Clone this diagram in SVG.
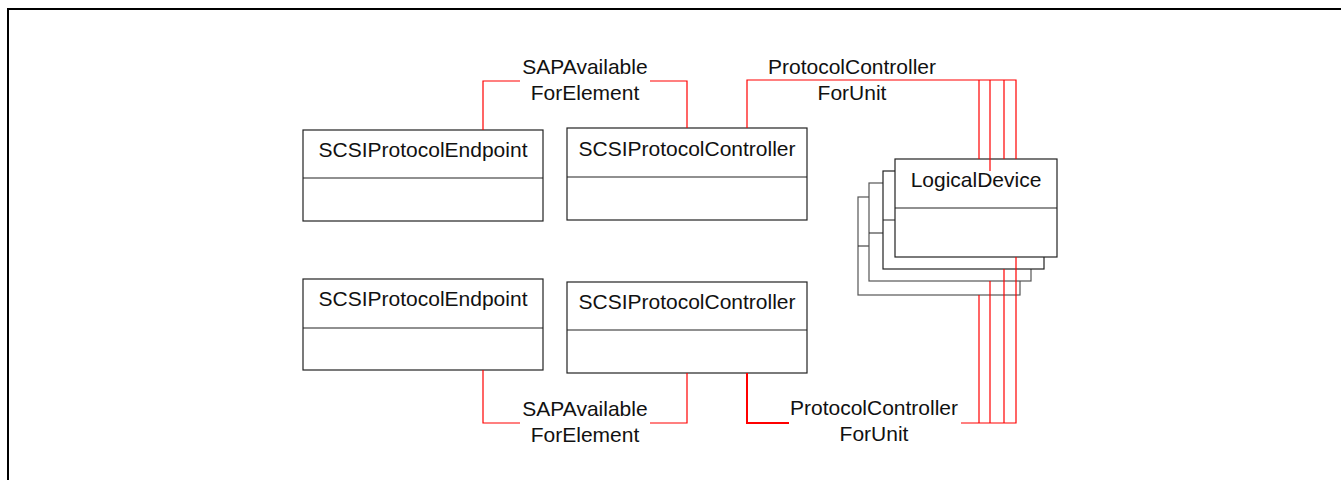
<svg xmlns="http://www.w3.org/2000/svg" width="1341" height="480" viewBox="0 0 1341 480">
<style>
.box{fill:#fff;stroke:#222;stroke-width:1.2}
.back{fill:#fff;stroke:#555;stroke-width:1.2}
.div{stroke:#222;stroke-width:1.2}
.t{font-family:"Liberation Sans",Arial,sans-serif;font-size:21px;fill:#111;text-anchor:middle}
.c{fill:none;stroke:#f00;stroke-width:1.2}
.cb{fill:none;stroke:#f00;stroke-width:2}
</style>
<rect width="1341" height="480" fill="#fff"/>
<path d="M8,480 V9 H1341" fill="none" stroke="#000" stroke-width="2"/>
<g id="ep1">
<rect class="box" x="303" y="130" width="240" height="91"/>
<line class="div" x1="303" y1="178" x2="543" y2="178"/>
<text class="t" x="423" y="157">SCSIProtocolEndpoint</text>
</g>
<g id="pc1">
<rect class="box" x="567" y="128" width="240" height="92"/>
<line class="div" x1="567" y1="177" x2="807" y2="177"/>
<text class="t" x="687" y="156">SCSIProtocolController</text>
</g>
<g id="ep2">
<rect class="box" x="303" y="279" width="240" height="91"/>
<line class="div" x1="303" y1="328" x2="543" y2="328"/>
<text class="t" x="423" y="306">SCSIProtocolEndpoint</text>
</g>
<g id="pc2">
<rect class="box" x="567" y="282" width="240" height="91"/>
<line class="div" x1="567" y1="330" x2="807" y2="330"/>
<text class="t" x="687" y="309">SCSIProtocolController</text>
</g>
<g id="ld4">
<rect class="back" x="858" y="197" width="162" height="98"/>
<line class="div" x1="858" y1="246" x2="1020" y2="246"/>
</g>
<g id="ld3">
<rect class="back" x="869" y="183" width="162" height="98"/>
<line class="div" x1="869" y1="233" x2="1031" y2="233"/>
</g>
<g id="ld2">
<rect class="box" x="883" y="171" width="161" height="98"/>
<line class="div" x1="883" y1="220" x2="1044" y2="220"/>
</g>
<g id="ld1">
<rect class="box" x="895" y="159" width="162" height="98"/>
<line class="div" x1="895" y1="208" x2="1057" y2="208"/>
<text class="t" x="976" y="187">LogicalDevice</text>
</g>
<g id="connectors">
<path class="c" d="M483,130 V81 H520 M650,81 H687 V128"/>
<text class="t" x="585" y="74">SAPAvailable</text>
<text class="t" x="585" y="100">ForElement</text>
<path class="c" d="M483,370 V423 H520 M650,423 H687 V373"/>
<text class="t" x="585" y="416">SAPAvailable</text>
<text class="t" x="585" y="442">ForElement</text>
<path class="c" d="M747,128 V80 H1016 V159 M979,80 V159 M990,80 V171 M1004,80 V159"/>
<text class="t" x="852" y="74">ProtocolController</text>
<text class="t" x="852" y="100">ForUnit</text>
<path class="cb" d="M747,373 V423 H789"/>
<path class="c" d="M961,423 H1016 V257 M979,423 V295 M990,423 V281 M1004,423 V269"/>
<text class="t" x="874" y="415">ProtocolController</text>
<text class="t" x="874" y="441">ForUnit</text>
</g>
</svg>
